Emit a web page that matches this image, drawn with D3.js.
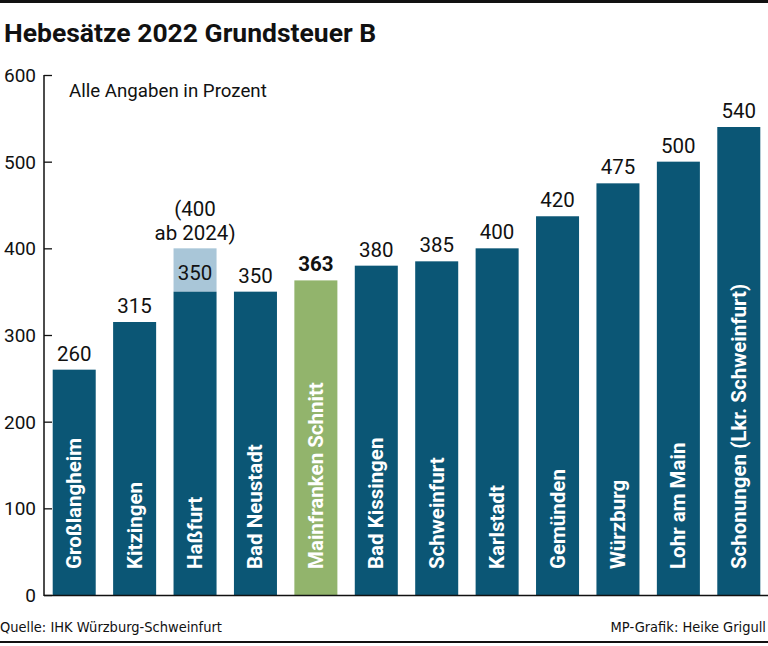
<!DOCTYPE html>
<html><head><meta charset="utf-8">
<script src="https://cdn.jsdelivr.net/npm/d3@7"></script>
<style>body{margin:0;background:#fff}svg{display:block}</style>
</head><body>
<script>
const categories = ["Großlangheim","Kitzingen","Haßfurt","Bad Neustadt","Mainfranken Schnitt","Bad Kissingen","Schweinfurt","Karlstadt","Gemünden","Würzburg","Lohr am Main","Schonungen (Lkr. Schweinfurt)"];
const values = [260,315,350,350,363,380,385,400,437,475,500,540];
const valueLabels = ["260","315","350","350","363","380","385","400","420","475","500","540"];
const futureCategory = "Haßfurt";
const futureValue = 400;
const futureNote = ["(400","ab 2024)"];
const highlight = "Mainfranken Schnitt";
const yTicks = [0,100,200,300,400,500,600];

const W=768,H=646;
const svg=d3.select("body").append("svg").attr("width",W).attr("height",H);
const dark="#0b5675", green="#92b46c", light="#a9c6d8";
const fontMain="Roboto, 'Open Sans', sans-serif";

svg.append("rect").attr("x",0).attr("y",0).attr("width",W).attr("height",3).attr("fill","#111");
svg.append("rect").attr("x",0).attr("y",641).attr("width",W).attr("height",2).attr("fill","#111");

svg.append("text").attr("x",4).attr("y",42).text("Hebesätze 2022 Grundsteuer B")
  .attr("font-family",fontMain).attr("font-weight",700).attr("font-size",26.5).attr("fill","#111");

const y=d3.scaleLinear().domain([0,600]).range([595,75]);
const x=d3.scaleBand().domain(categories).range([44,769]).paddingInner(0.288).paddingOuter(0.144);

// y axis
const ya=svg.append("g").attr("transform","translate(44,0)")
  .call(d3.axisRight(y).tickValues(yTicks).tickSize(8).tickFormat(d3.format("d")));
ya.select(".domain").remove();
ya.selectAll(".tick line").attr("stroke","#111").attr("stroke-width",1.3);
ya.selectAll(".tick text").attr("x",-8).attr("text-anchor","end").attr("dy","0.35em")
  .attr("font-family",fontMain).attr("font-size",19).attr("fill","#111");
svg.append("line").attr("x1",44).attr("x2",44).attr("y1",y(600)).attr("y2",y(0)+1).attr("stroke","#111").attr("stroke-width",1.5);

svg.append("text").attr("x",69).attr("y",97).text("Alle Angaben in Prozent")
  .attr("font-family",fontMain).attr("font-size",18.7).attr("fill","#111");

// future segment
svg.append("rect").attr("x",x(futureCategory)).attr("width",x.bandwidth())
  .attr("y",y(futureValue)).attr("height",y(350)-y(futureValue)).attr("fill",light);

// bars
svg.selectAll("rect.bar").data(categories).enter().append("rect").attr("class","bar")
  .attr("x",d=>x(d)).attr("width",x.bandwidth())
  .attr("y",(d,i)=>y(values[i])).attr("height",(d,i)=>y(0)-y(values[i]))
  .attr("fill",d=>d===highlight?green:dark);

// value labels
svg.selectAll("text.val").data(categories).enter().append("text").attr("class","val")
  .attr("x",d=>x(d)+x.bandwidth()/2)
  .attr("y",(d,i)=> d===futureCategory ? y(values[i])-12 : y(values[i])-9)
  .attr("text-anchor","middle")
  .attr("font-family",fontMain).attr("font-size",20.5)
  .attr("font-weight",d=>d===highlight?700:400).attr("fill","#111")
  .text((d,i)=>valueLabels[i]);

futureNote.forEach((t,j)=>{
  svg.append("text").attr("x",x(futureCategory)+x.bandwidth()/2).attr("y",y(futureValue)-32+j*24)
    .attr("text-anchor","middle").attr("font-family",fontMain).attr("font-size",20.5).attr("fill","#111").text(t);
});

// category labels inside bars
svg.selectAll("text.cat").data(categories).enter().append("text").attr("class","cat")
  .attr("transform",d=>`translate(${x(d)+x.bandwidth()/2+7},569) rotate(-90)`)
  .attr("font-family",fontMain).attr("font-weight",700).attr("font-size",20.5)
  .attr("fill","#fff").text(d=>d);

// x baseline
svg.append("line").attr("x1",44).attr("x2",W).attr("y1",y(0)+0.5).attr("y2",y(0)+0.5).attr("stroke","#111").attr("stroke-width",1.5);

svg.append("text").attr("x",0).attr("y",632).text("Quelle: IHK Würzburg-Schweinfurt")
  .attr("font-family","'DejaVu Sans Condensed', 'DejaVu Sans', sans-serif").attr("font-stretch","condensed").attr("font-size",14.5).attr("fill","#111");
svg.append("text").attr("x",766).attr("y",632).attr("text-anchor","end").text("MP-Grafik: Heike Grigull")
  .attr("font-family","'DejaVu Sans Condensed', 'DejaVu Sans', sans-serif").attr("font-stretch","condensed").attr("font-size",14.5).attr("fill","#111");
</script>
</body></html>
